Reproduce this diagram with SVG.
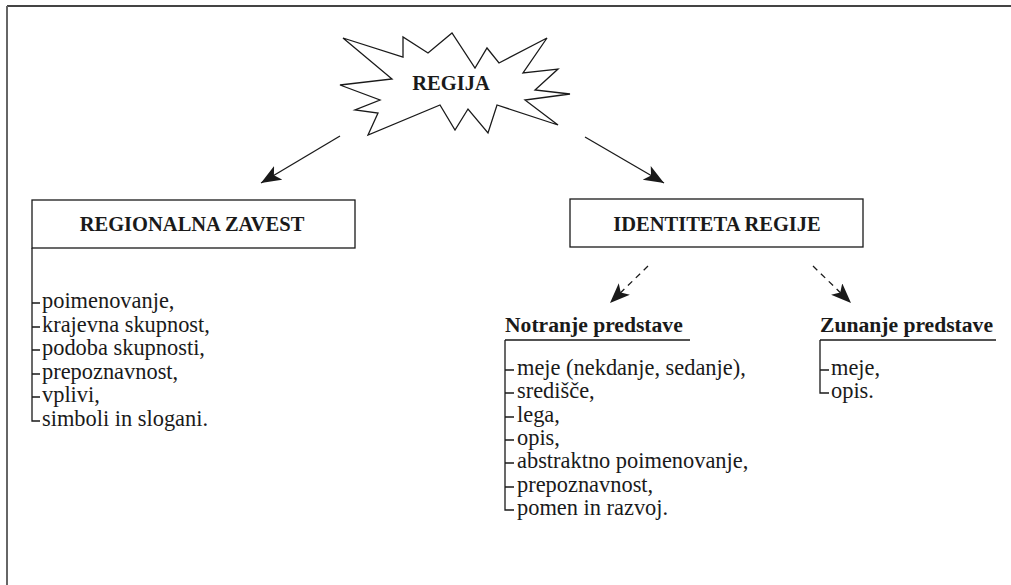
<svg xmlns="http://www.w3.org/2000/svg" width="1011" height="585" viewBox="0 0 1011 585">
<style>
.ln{stroke:#1a1a1a;stroke-width:1.3;fill:none}
.box{fill:#fff;stroke:#1a1a1a;stroke-width:1.3}
.hd{font-family:"Liberation Serif","Times New Roman",serif;font-weight:bold;font-size:20.5px;fill:#1a1a1a}
.sub{font-family:"Liberation Serif","Times New Roman",serif;font-weight:bold;font-size:21.6px;fill:#1a1a1a}
.it{font-family:"Liberation Serif","Times New Roman",serif;font-size:22.4px;fill:#1a1a1a}
.dash{stroke:#1a1a1a;stroke-width:1.3;fill:none;stroke-dasharray:6,5}
</style>
<defs>
<marker id="ah" markerUnits="userSpaceOnUse" markerWidth="22" markerHeight="18" refX="20" refY="8" orient="auto">
<path d="M0,0 L20,8 L0,16 L5,8 z" fill="#1a1a1a"/>
</marker>
</defs>
<rect width="1011" height="585" fill="#fff"/>
<g id="frame">
<line x1="7" y1="6" x2="1011" y2="6" stroke="#444" stroke-width="2"/>
<line x1="7" y1="6" x2="7" y2="585" stroke="#666" stroke-width="2"/>
</g>
<g id="regija">
<polygon class="box" points="343,38 403,57 403,37 428,53 452,33 475,68 487,48 499,63 547,38 523,73 558,69 535,90 570,94 525,100 558,125 497,105 488,133 468,109 455,130 440,105 368,135 378,113 355,110 380,100 340,85 392,79"/>
<text class="hd" x="451" y="90" text-anchor="middle" font-size="19">REGIJA</text>
</g>
<g id="connectors">
<line class="ln" x1="340" y1="136" x2="261" y2="183" marker-end="url(#ah)"/>
<line class="ln" x1="585" y1="137" x2="664" y2="183" marker-end="url(#ah)"/>
<line class="dash" x1="648" y1="266" x2="610" y2="303" marker-end="url(#ah)"/>
<line class="dash" x1="813" y1="266" x2="851" y2="303" marker-end="url(#ah)"/>
</g>
<g id="regionalna">
<rect class="box" x="32" y="200" width="323" height="48"/>
<text class="hd" x="192" y="231" text-anchor="middle">REGIONALNA ZAVEST</text>
<path class="ln" d="M32,248 V421 H40 M32,303 H40 M32,327 H40 M32,350 H40 M32,374 H40 M32,397 H40"/>
<text class="it" x="42" y="308">poimenovanje,</text>
<text class="it" x="42" y="332">krajevna skupnost,</text>
<text class="it" x="42" y="355">podoba skupnosti,</text>
<text class="it" x="42" y="379">prepoznavnost,</text>
<text class="it" x="42" y="402">vplivi,</text>
<text class="it" x="42" y="426">simboli in slogani.</text>
</g>
<g id="identiteta">
<rect class="box" x="570" y="199" width="293" height="48"/>
<text class="hd" x="717" y="231" text-anchor="middle">IDENTITETA REGIJE</text>
</g>
<g id="notranje">
<text class="sub" x="505" y="332">Notranje predstave</text>
<path class="ln" d="M505,340 H690 M505,340 V510 H514 M505,370 H514 M505,393 H514 M505,417 H514 M505,440 H514 M505,463 H514 M505,487 H514"/>
<text class="it" x="517" y="375">meje (nekdanje, sedanje),</text>
<text class="it" x="517" y="398">središče,</text>
<text class="it" x="517" y="422">lega,</text>
<text class="it" x="517" y="445">opis,</text>
<text class="it" x="517" y="468">abstraktno poimenovanje,</text>
<text class="it" x="517" y="492">prepoznavnost,</text>
<text class="it" x="517" y="515">pomen in razvoj.</text>
</g>
<g id="zunanje">
<text class="sub" x="820" y="332">Zunanje predstave</text>
<path class="ln" d="M820,340 H996 M820,340 V393 H829 M820,370 H829"/>
<text class="it" x="831" y="375">meje,</text>
<text class="it" x="831" y="398">opis.</text>
</g>
</svg>
